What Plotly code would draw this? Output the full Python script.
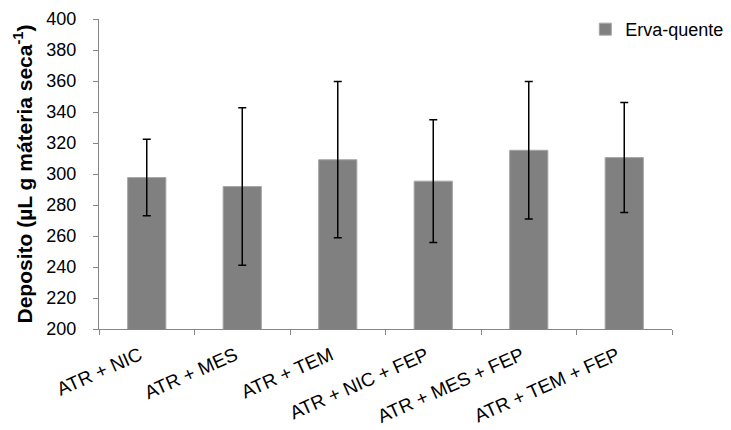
import plotly.graph_objects as go

categories = ["ATR + NIC", "ATR + MES", "ATR + TEM", "ATR + NIC + FEP", "ATR + MES + FEP", "ATR + TEM + FEP"]
values = [297.7, 291.9, 309.2, 295.4, 315.3, 310.6]
errors = [24.7, 50.8, 50.4, 39.6, 44.3, 35.5]
series_name = "Erva-quente"

fig = go.Figure()
fig.add_trace(go.Bar(
    x=categories, y=values, name=series_name,
    marker=dict(color="#808080", line=dict(color="#a6a6a6", width=1)),
    error_y=dict(type="data", array=errors, visible=True, color="black", thickness=1.5, width=4),
))

axis_color = "#868686"
fig.update_layout(
    width=731, height=430,
    margin=dict(l=99, r=59, t=19, b=101, autoexpand=False),
    paper_bgcolor="white", plot_bgcolor="white",
    font=dict(family="Liberation Sans, Arial, sans-serif", size=18, color="black"),
    bargap=0.6,
    showlegend=True,
    legend=dict(x=1.1, xanchor="right", y=1.026, yanchor="top",
                font=dict(size=18), bgcolor="rgba(0,0,0,0)", itemwidth=30),
    yaxis=dict(range=[200, 400], dtick=20, showgrid=False, showline=True, linecolor=axis_color,
               linewidth=1, ticks="outside", ticklen=5, tickcolor=axis_color,
               ticklabelstandoff=13,
               title=dict(text="<b>Deposito (µL g máteria seca<sup>-1</sup>)</b>", font=dict(size=21), standoff=8)),
    xaxis=dict(showgrid=False, showline=True, linecolor=axis_color, linewidth=1,
               ticks="outside", ticklen=5, tickcolor=axis_color, tickson="boundaries",
               tickangle=-24, tickfont=dict(size=19), ticklabelstandoff=7, ticklabelshift=-7),
)

fig.write_html("out.html")
